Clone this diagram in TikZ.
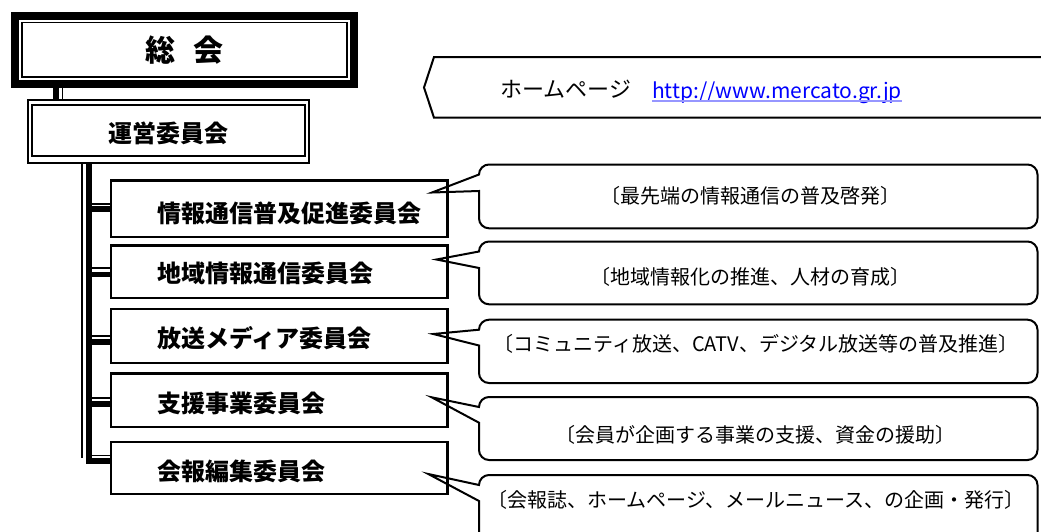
\documentclass[tikz,border=0pt]{standalone}
\usepackage{fontspec}
\newfontfamily\jp{Noto Sans CJK JP}
\definecolor{urlblue}{RGB}{0,0,255}
\definecolor{ulblue}{RGB}{150,150,255}
\newcommand\calloutshape[5]{%
 \draw[callout] ({#3+5},#4) -- (479,{#1+10}) .. controls (479,{#1+4.5}) and (483.5,#1) .. (489,#1) -- (1027.5,#1) .. controls (1033,#1) and (1037.5,{#1+4.5}) .. (1037.5,{#1+10}) -- (1037.5,{#2-10}) .. controls (1037.5,{#2-4.5}) and (1033,#2) .. (1027.5,#2) -- (489,#2) .. controls (483.5,#2) and (479,{#2-4.5}) .. (479,{#2-10}) -- (479,#5) -- cycle;}
\begin{document}
\begin{tikzpicture}[x=1pt,y=-1pt,
  box/.style={draw,line width=2.2pt,inner sep=0pt},
  lbl/.style={inner sep=0pt,font={\jp\bfseries\fontsize{24pt}{28pt}\selectfont}},
  ctext/.style={inner sep=0pt,font={\jp\fontsize{20pt}{24pt}\selectfont}},
  thk/.style={line width=5.5pt},
  thn/.style={line width=1.8pt},
  callout/.style={draw,line width=2pt}]
\useasboundingbox (0,0) rectangle (1041,531);
\clip (0,0) rectangle (1041,531);

% General assembly box
\node[draw,line width=8pt,minimum width=339.2pt,minimum height=67.3pt,inner sep=0pt] (sokaiout) at (184.6,49.85) {};
\node[draw,line width=1.6pt,minimum width=324.7pt,minimum height=54.2pt,inner sep=0pt] (sokai) at (184.35,49.6) {};
\node[inner sep=0pt,font={\jp\bfseries\fontsize{30pt}{34pt}\selectfont}] (sokaitxt) at (184.5,50) {総\hspace{19pt}会};

% Steering committee box
\node[draw,line width=2pt,minimum width=280.7pt,minimum height=62.5pt,inner sep=0pt] (unei) at (168.15,131.25) {};
\node[draw,line width=2pt,minimum width=272.8pt,minimum height=51pt,inner sep=0pt] (uneiin) at (168.6,130.5) {};
\node[lbl] (uneitxt) at (168.5,133) {運営委員会};

% connector general assembly -> steering
\coordinate (k0) at (56,0);
\coordinate (t0) at (62.5,0);
\draw[line width=6.6pt] (k0 |- sokaiout.south) -- (k0 |- unei.north);
\draw[thn] (t0 |- sokaiout.south) -- (t0 |- unei.north);

% committee boxes
\node[box,minimum width=336.3pt,minimum height=56.5pt] (c1) at (279.35,208.75) {};
\node[box,minimum width=336.3pt,minimum height=52.5pt] (c2) at (279.35,271.75) {};
\node[box,minimum width=336.3pt,minimum height=54.3pt] (c3) at (279.35,336.15) {};
\node[box,minimum width=336.3pt,minimum height=53.5pt] (c4) at (279.35,400.25) {};
\node[box,minimum width=336.3pt,minimum height=52pt] (c5) at (279.35,468) {};
\node[lbl,anchor=west] (l1) at (157,213.3) {情報通信普及促進委員会};
\node[lbl,anchor=west] (l2) at (157,273) {地域情報通信委員会};
\node[lbl,anchor=west] (l3) at (157,338) {放送メディア委員会};
\node[lbl,anchor=west] (l4) at (157,403) {支援事業委員会};
\node[lbl,anchor=west] (l5) at (157,471.5) {会報編集委員会};

% spine
\coordinate (st) at (82,0);
\coordinate (sk) at (89,0);
\coordinate (stend) at (82,458);
\draw[thn] (st |- unei.south) -- (stend);
\coordinate (b5k) at (89,461.3);
\draw[line width=6pt] (sk |- unei.south) -- (b5k) -- (b5k -| c5.west);
\coordinate (b5t) at (92,455.5);
\draw[thn] (b5t) -- (b5t -| c5.west);
\coordinate (b1k) at (89,209.2); \coordinate (b1t) at (92,204);
\coordinate (b2k) at (89,274.5); \coordinate (b2t) at (92,268.3);
\coordinate (b3k) at (89,342.2); \coordinate (b3t) at (92,336);
\coordinate (b4k) at (89,404.2); \coordinate (b4t) at (92,398.3);
\foreach \i in {1,2,3,4}{
  \draw[thk] (b\i k) -- (b\i k -| c\i.west);
  \draw[thn] (b\i t) -- (b\i t -| c\i.west);
}

% callouts
\calloutshape{164.5}{228.3}{427}{192.5}{191}
\calloutshape{241.5}{304.3}{431.5}{259.5}{268}
\calloutshape{319.7}{383}{428.3}{334}{345.5}
\calloutshape{397}{460}{426.7}{397.3}{422.7}
\calloutshape{475}{560}{423.3}{474}{501}
\node[ctext] (d1) at (750,195.5) {〔最先端の情報通信の普及啓発〕};
\node[ctext] (d2) at (750,277) {〔地域情報化の推進、人材の育成〕};
\node[ctext] (d3) at (756,344) {〔コミュニティ放送、CATV、デジタル放送等の普及推進〕};
\node[ctext] (d4) at (755,435) {〔会員が企画する事業の支援、資金の援助〕};
\node[ctext] (d5) at (756,500) {〔会報誌、ホームページ、メールニュース、の企画・発行〕};

% homepage banner
\draw[line width=2pt] (1045,57) -- (434,57) -- (424,87.5) -- (434,117.7) -- (1045,117.7);
\node[inner sep=0pt,anchor=west,font={\jp\fontsize{22pt}{26pt}\selectfont}] (hp) at (500,89) {ホームページ};
\node[inner sep=0pt,anchor=base west,text=urlblue,font={\jp\fontsize{21pt}{24pt}\selectfont}] (url) at (652,98.3) {http://www.mercato.gr.jp};
\draw[ulblue,line width=1.2pt] ([yshift=-2.7pt]url.base west) -- ([yshift=-2.7pt]url.base east);
\end{tikzpicture}
\end{document}
